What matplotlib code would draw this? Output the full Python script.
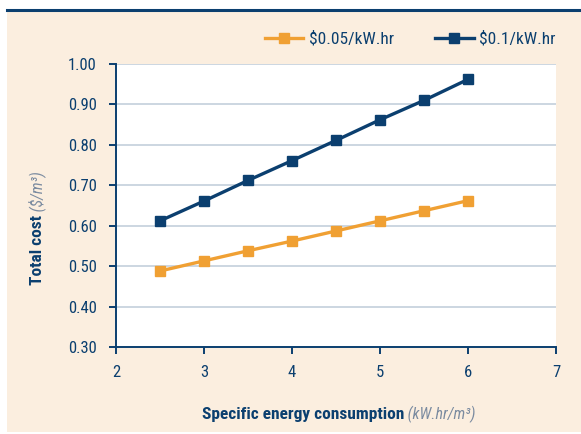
import numpy as np
import matplotlib
matplotlib.use('Agg')
import matplotlib.pyplot as plt
import matplotlib.font_manager as fm
from matplotlib.patches import Rectangle
from matplotlib.lines import Line2D

# 数据
energy = [2.5, 3.0, 3.5, 4.0, 4.5, 5.0, 5.5, 6.0]
cost_005 = [0.488, 0.513, 0.538, 0.562, 0.587, 0.612, 0.637, 0.662]
cost_010 = [0.612, 0.661, 0.712, 0.761, 0.811, 0.862, 0.910, 0.962]
series_labels = ['$0.05/kW.hr', '$0.1/kW.hr']
y_ticks = [0.30, 0.40, 0.50, 0.60, 0.70, 0.80, 0.90, 1.00]
x_ticks = [2, 3, 4, 5, 6, 7]

# 颜色
navy = '#0b3f6f'
orange = '#f0a033'
beige = '#fbeedf'
grid_col = '#c3cfdc'
unit_col = '#7b8ba0'

# 字体：优先窄体
fonts = fm.fontManager.ttflist
names = {f.name for f in fonts}
base_font = 'DejaVu Sans'
stretch = 'normal'
for cand in ['Liberation Sans Narrow', 'Roboto Condensed', 'Open Sans Condensed']:
    if cand in names:
        base_font = cand
        break
else:
    if any(f.name == 'Roboto' and f.stretch == 'condensed' for f in fonts):
        base_font = 'Roboto'
        stretch = 'condensed'
    elif any(f.name == 'DejaVu Sans' and f.stretch == 'condensed' for f in fonts):
        stretch = 'condensed'
plt.rcParams['font.family'] = [base_font, 'DejaVu Sans']
plt.rcParams['font.stretch'] = stretch

fig = plt.figure(figsize=(5.81, 4.34), dpi=100)
fig.patch.set_facecolor('white')

# 米色背景和顶部线条
fig.patches.append(Rectangle((7 / 581, 2 / 434), 1 - 7 / 581, 421 / 434,
                             transform=fig.transFigure, facecolor=beige,
                             edgecolor='none', zorder=-10))
fig.lines.append(Line2D([7 / 581, 1], [1 - 10 / 434, 1 - 10 / 434],
                        transform=fig.transFigure, color=navy, linewidth=2.2,
                        zorder=-5))

ax = fig.add_axes([116 / 581, 1 - 347 / 434, 440 / 581, 283 / 434])
ax.set_facecolor('white')

ax.plot(energy, cost_005, color=orange, linewidth=2.4, marker='s',
        markersize=7.5, label=series_labels[0], zorder=3, clip_on=False)
ax.plot(energy, cost_010, color=navy, linewidth=2.4, marker='s',
        markersize=7.5, label=series_labels[1], zorder=3, clip_on=False)

ax.set_xlim(2, 7)
ax.set_ylim(0.30, 1.00)
ax.set_xticks(x_ticks)
ax.set_yticks(y_ticks)
ax.set_yticklabels(['%.2f' % v for v in y_ticks])

ax.grid(axis='y', color=grid_col, linewidth=1.2)
ax.set_axisbelow(True)
for s in ['top', 'right']:
    ax.spines[s].set_visible(False)
for s in ['left', 'bottom']:
    ax.spines[s].set_color(navy)
    ax.spines[s].set_linewidth(1.4)
ax.tick_params(axis='both', colors=navy, labelsize=12, length=5, width=1.4,
               direction='out')
ax.tick_params(axis='y', pad=9)
ax.tick_params(axis='x', pad=8)

# 坐标轴标题（粗体 + 斜体单位）
xl = fig.text(202 / 581, 1 - 414 / 434, 'Specific energy consumption',
              ha='left', va='center', fontsize=12.5, fontweight='bold',
              color=navy)
ax.annotate(' (kW.hr/m³)', xy=(1, 0.5), xycoords=xl, ha='left', va='center',
            fontsize=11.5, fontstyle='italic', color=unit_col,
            annotation_clip=False)

yl = fig.text(37 / 581, 1 - 285 / 434, 'Total cost', ha='center', va='bottom',
              rotation=90, fontsize=12.5, fontweight='bold', color=navy)
ax.annotate(' ($/m³)', xy=(0.5, 1), xycoords=yl, ha='center', va='bottom',
            rotation=90, fontsize=11.5, fontstyle='italic', color=unit_col,
            annotation_clip=False)

leg = ax.legend(loc='lower right', bbox_to_anchor=(1.018, 1.03), ncol=2,
                frameon=False, fontsize=12.5, handlelength=2.2,
                columnspacing=2.4, borderaxespad=0.0, borderpad=0.5,
                handletextpad=0.3)
for t in leg.get_texts():
    t.set_color(navy)

fig.savefig('out.png', dpi=100, facecolor=fig.get_facecolor())
